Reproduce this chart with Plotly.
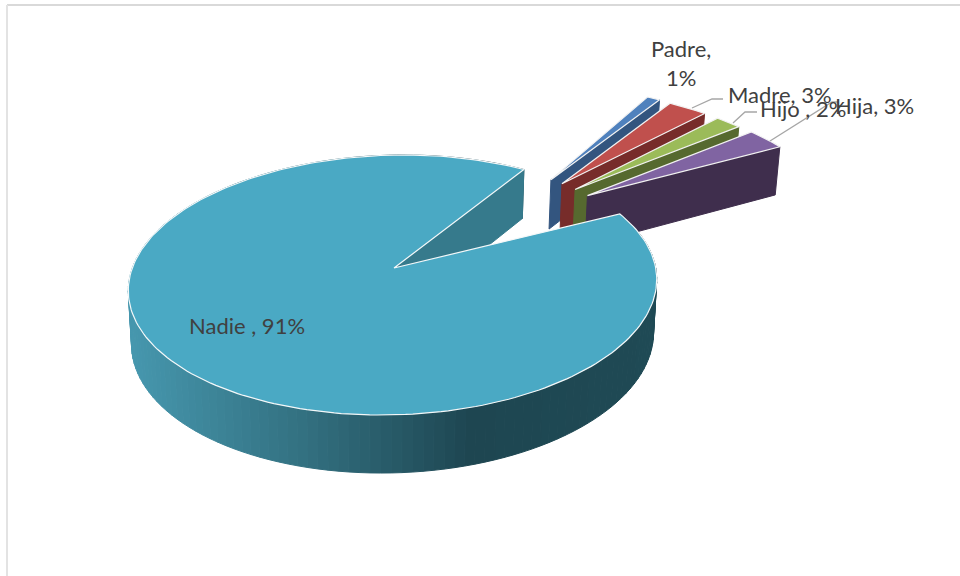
import numpy as np
import plotly.graph_objects as go

# Survey shares, in slice order clockwise from the first angle
categories = ["Padre", "Madre", "Hijo", "Hija", "Nadie"]
values = [1, 3, 2, 3, 91]
top_colors = ["#4f81bd", "#c0504d", "#9bbb59", "#8064a2", "#4aa9c4"]
face_colors = ["#33557f", "#772c2a", "#56692f", "#3f2e4d", "#367a8c"]

FIRST_ANGLE = 31.0      # degrees clockwise from north
EXPLODE = 0.985         # pulled-out distance, in radii
EXPLODE_AXIS = 45.7     # pulled-out slices fan around this bearing
EXPLODE_FAN = 0.48
SMALL_RADIUS = 0.985    # radius of the pulled-out slices
SMALL_SPIN = -2.0       # extra rotation of the pulled-out slices, degrees

# Perspective view of the pie's plane, in page pixels
CX, CY = 394.0, 268.0
K, KS, P, SHEAR = 261.7, 127.8, 0.1308, 0.043
SHRINK = 0.988          # the lower rim is a little narrower than the upper one


def project(x, y):
    w = 1 + P * y
    return CX + K * (x + SHEAR * y) / w, CY - KS * y / w


def drop(px, py):
    """Map a point of the top surface onto the bottom surface."""
    h = 49 + (py - 169) / (415 - 169) * 9
    return CX + (px - CX) * SHRINK, py + h


def polar(deg, ox=0.0, oy=0.0, r=1.0):
    a = np.radians(deg)
    return project(ox + r * np.sin(a), oy + r * np.cos(a))


def mix(c0, c1, t):
    return "rgb(%d,%d,%d)" % tuple(round(a + (b - a) * t) for a, b in zip(c0, c1))


def wall_color(px):
    stops = [(130, (70, 151, 174)), (300, (51, 113, 129)), (470, (30, 70, 81)), (660, (31, 74, 85))]
    for (x0, c0), (x1, c1) in zip(stops, stops[1:]):
        if px <= x1:
            return mix(c0, c1, max(0.0, (px - x0) / (x1 - x0)))
    return mix(stops[-1][1], stops[-1][1], 0)


fig = go.Figure()


def poly(xs, ys, fill, line=None, width=1.0):
    fig.add_trace(go.Scatter(
        x=list(xs), y=list(ys), mode="lines", fill="toself", fillcolor=fill,
        line=dict(color=line or fill, width=width), hoverinfo="skip", showlegend=False,
    ))


# Slice angles from the values
edges = FIRST_ANGLE + np.cumsum([0] + values) * 3.6

# Pulled-out slices, back to front
for i in range(4):
    a0, a1 = edges[i], edges[i + 1]
    mid = (a0 + a1) / 2
    bearing = np.radians(EXPLODE_AXIS + EXPLODE_FAN * (mid - EXPLODE_AXIS))
    ox, oy = EXPLODE * np.sin(bearing), EXPLODE * np.cos(bearing)
    apex = project(ox, oy)
    end = polar(a1 + SMALL_SPIN, ox, oy, SMALL_RADIUS)
    face = [apex, end, drop(*end), drop(*apex)]
    poly([p[0] for p in face] + [apex[0]], [p[1] for p in face] + [apex[1]], face_colors[i])
    arc = [polar(t + SMALL_SPIN, ox, oy, SMALL_RADIUS) for t in np.linspace(a0, a1, 12)]
    pts = [apex] + arc + [apex]
    poly([p[0] for p in pts], [p[1] for p in pts], top_colors[i], "#f2f2f2", 1.2)

# Large slice: shaded wall segments, cut face, then its top
a0, a1 = edges[4], edges[5]
seg = np.linspace(a0, a1, 161)
for t0, t1 in zip(seg[:-1], seg[1:]):
    p0, p1 = polar(t0), polar(t1)
    q0, q1 = drop(*p0), drop(*p1)
    poly([p0[0], p1[0], q1[0], q0[0], p0[0]], [p0[1], p1[1], q1[1], q0[1], p0[1]],
         wall_color((p0[0] + p1[0]) / 2))

apex = project(0, 0)
end = polar(a1)
face = [apex, end, drop(*end), drop(*apex), apex]
poly([p[0] for p in face], [p[1] for p in face], face_colors[4])

arc = [polar(t) for t in np.linspace(a0, a1, 241)]
pts = [apex] + arc + [apex]
poly([p[0] for p in pts], [p[1] for p in pts], top_colors[4], "#f4f8f9", 1.2)

# Leader lines
leaders = [
    ([692, 712, 723], [108, 99, 99]),
    ([733, 745, 757], [123, 112, 112]),
    ([770, 832, 838], [141, 102, 102]),
]
for lx, ly in leaders:
    fig.add_trace(go.Scatter(x=lx, y=ly, mode="lines", line=dict(color="#a6a6a6", width=1.3),
                             hoverinfo="skip", showlegend=False))

# Data labels
labels = [
    (f"{categories[0]},<br>{values[0]}%", 681, 63, "center"),
    (f"{categories[1]}, {values[1]}%", 726, 94, "left"),
    (f"{categories[2]} , {values[2]}%", 758, 108, "left"),
    (f"{categories[3]}, {values[3]}%", 833, 105, "left"),
    (f"{categories[4]} , {values[4]}%", 187, 325, "left"),
]
for text, x, y, align in labels:
    fig.add_annotation(x=x, y=y, text=text, showarrow=False, xanchor=align, yanchor="middle",
                       align=align, font=dict(family="Lato", size=22, color="#404040"))

# Chart frame
fig.add_shape(type="line", x0=7, x1=960, y0=5, y1=5, line=dict(color="#d9d9d9", width=2))
fig.add_shape(type="line", x0=7, x1=7, y0=5, y1=576, line=dict(color="#e3e3e3", width=2))

fig.update_layout(
    width=960, height=576, margin=dict(l=0, r=0, t=0, b=0),
    paper_bgcolor="white", plot_bgcolor="white", showlegend=False,
    xaxis=dict(range=[0, 960], visible=False, fixedrange=True),
    yaxis=dict(range=[576, 0], visible=False, fixedrange=True),
)
fig.write_html("out.html")
